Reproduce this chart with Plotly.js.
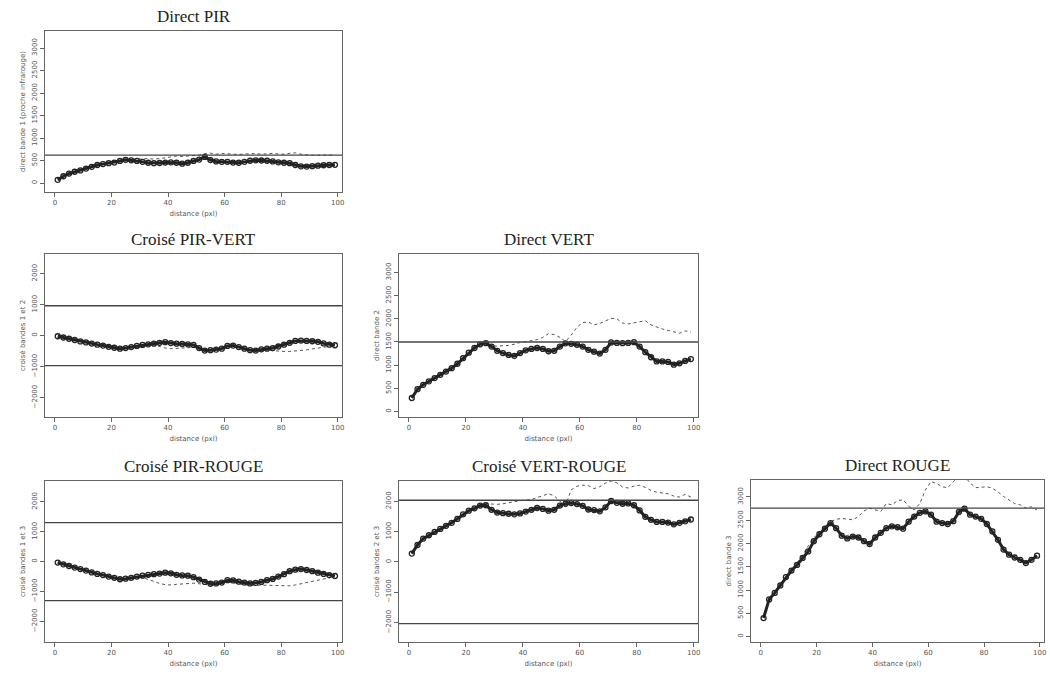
<!DOCTYPE html>
<html>
<head>
<meta charset="utf-8">
<script src="https://cdn.plot.ly/plotly-3.0.1.min.js"></script>
<style>html,body{margin:0;padding:0;background:#fff;}#chart{width:1050px;height:675px;}</style>
</head>
<body>
<div id="chart"></div>
<script>
// distances (pixels)
const distance = [1,3,5,7,9,11,13,15,17,19,21,23,25,27,29,31,33,35,37,39,41,43,45,47,49,51,53,55,57,59,61,63,65,67,69,71,73,75,77,79,81,83,85,87,89,91,93,95,97,99];

// Direct PIR
const pirThick = [70,150,210,250,280,320,360,400,420,440,455,490,515,505,490,470,450,440,445,455,460,450,430,450,490,520,580,510,480,470,470,455,450,470,495,505,500,495,480,460,450,440,400,370,365,375,385,395,400,405];
const pirThin  = [70,150,210,250,280,320,360,400,420,440,455,490,515,520,530,540,545,530,540,560,580,600,590,600,610,620,650,665,640,655,650,640,635,645,650,655,640,650,660,645,640,660,670,640,620,615,620,615,620,625];

// Croisé PIR-VERT
const pvThick = [-20,-60,-100,-140,-185,-220,-255,-290,-320,-360,-390,-420,-400,-370,-330,-300,-280,-260,-230,-210,-240,-260,-270,-280,-300,-400,-480,-470,-450,-420,-330,-320,-370,-420,-470,-480,-440,-420,-400,-350,-290,-230,-170,-160,-170,-180,-200,-250,-290,-310];
const pvThin  = [-20,-60,-100,-140,-185,-220,-255,-290,-320,-360,-390,-420,-400,-370,-330,-300,-280,-300,-360,-400,-420,-410,-400,-390,-380,-410,-470,-480,-460,-430,-350,-340,-390,-430,-470,-480,-460,-470,-490,-500,-510,-510,-500,-480,-460,-430,-400,-370,-340,-320];

// Direct VERT
const vertThick = [290,480,575,650,720,790,860,935,1030,1150,1270,1370,1450,1475,1400,1310,1260,1220,1200,1260,1320,1350,1370,1350,1300,1310,1400,1470,1460,1440,1400,1330,1290,1250,1330,1490,1480,1475,1480,1495,1400,1280,1170,1080,1080,1070,1010,1040,1090,1130];
const vertThin  = [290,480,575,650,720,790,860,935,1030,1150,1270,1370,1450,1460,1420,1410,1420,1425,1450,1490,1510,1530,1550,1600,1680,1660,1600,1510,1650,1820,1920,1930,1870,1900,1950,2010,2000,1910,1890,1910,1930,1960,1870,1820,1780,1750,1720,1690,1740,1710];

// Croisé PIR-ROUGE
const prThick = [-30,-90,-145,-200,-250,-300,-360,-410,-450,-500,-540,-590,-570,-540,-500,-470,-440,-420,-400,-370,-390,-440,-460,-470,-520,-600,-680,-740,-730,-700,-620,-630,-670,-700,-730,-710,-680,-620,-580,-500,-420,-320,-270,-250,-280,-320,-370,-410,-450,-480];
const prThin  = [-30,-90,-145,-200,-250,-300,-360,-410,-450,-500,-540,-590,-570,-540,-500,-530,-600,-680,-730,-770,-780,-760,-740,-730,-720,-740,-770,-780,-770,-740,-700,-700,-740,-770,-790,-800,-790,-790,-800,-810,-820,-810,-780,-740,-700,-650,-600,-560,-520,-500];

// Croisé VERT-ROUGE
const vrThick = [275,560,770,880,990,1090,1190,1290,1420,1570,1690,1770,1860,1870,1720,1630,1610,1590,1570,1600,1660,1720,1780,1750,1690,1720,1860,1920,1945,1910,1850,1730,1710,1670,1800,2010,1950,1920,1930,1870,1700,1490,1390,1320,1320,1300,1240,1290,1340,1400];
const vrThin  = [275,560,770,880,990,1090,1190,1290,1420,1570,1690,1770,1860,1920,1910,1900,1920,1960,1990,2020,2040,2060,2120,2190,2250,2180,2000,1870,2380,2500,2530,2520,2420,2480,2600,2670,2610,2470,2440,2500,2530,2460,2360,2300,2270,2250,2170,2140,2230,2140];

// Direct ROUGE
const rougeThick = [400,800,940,1100,1280,1420,1540,1690,1830,2050,2200,2320,2440,2330,2170,2110,2150,2130,2050,1990,2130,2230,2330,2370,2350,2320,2470,2580,2660,2690,2620,2470,2440,2420,2480,2680,2750,2620,2580,2530,2420,2260,2080,1870,1760,1700,1650,1580,1650,1740];
const rougeThin  = [400,800,960,1130,1300,1450,1580,1750,1950,2120,2250,2380,2470,2520,2540,2530,2510,2580,2700,2760,2720,2690,2860,2830,2920,2940,2800,2720,2860,3150,3330,3290,3220,3200,3330,3420,3450,3300,3200,3210,3220,3190,3110,3010,2930,2860,2830,2760,2790,2720];

// sills of the direct variograms
const sillPIR = 620, sillVERT = 1500, sillROUGE = 2760;

const panelTitles = ["Direct PIR","Croisé PIR-VERT","Direct VERT","Croisé PIR-ROUGE","Croisé VERT-ROUGE","Direct ROUGE"];
const yTitles = ["direct bande 1 (proche infrarouge)","croisé bandes 1 et 2","direct bande 2","croisé bandes 1 et 3","croisé bandes 2 et 3","direct bande 3"];
const xTitle = "distance (pxl)";
const xTicks = [0,20,40,60,80,100];
const directTicks = [0,500,1000,1500,2000,2500,3000];
const crossTicks = [-2000,-1000,0,1000,2000];

const panels = [
  {thick: pirThick, thin: pirThin, lines: [sillPIR], dom: [[45,342],[31,192]], yr: [-200,3380], ticks: directTicks},
  {thick: pvThick, thin: pvThin, lines: [Math.sqrt(sillPIR*sillVERT), -Math.sqrt(sillPIR*sillVERT)], dom: [[45,342],[254,417]], yr: [-2625,2635], ticks: crossTicks},
  {thick: vertThick, thin: vertThin, lines: [sillVERT], dom: [[399,698],[254,417]], yr: [-120,3400], ticks: directTicks},
  {thick: prThick, thin: prThin, lines: [Math.sqrt(sillPIR*sillROUGE), -Math.sqrt(sillPIR*sillROUGE)], dom: [[45,342],[481,642]], yr: [-2690,2700], ticks: crossTicks},
  {thick: vrThick, thin: vrThin, lines: [Math.sqrt(sillVERT*sillROUGE), -Math.sqrt(sillVERT*sillROUGE)], dom: [[399,698],[481,642]], yr: [-2640,2670], ticks: crossTicks},
  {thick: rougeThick, thin: rougeThin, lines: [sillROUGE], dom: [[751,1044],[480,642]], yr: [-115,3365], ticks: directTicks}
];

const W = 1050, H = 675;
const traces = [];
const layout = {
  width: W, height: H,
  margin: {l:0, r:0, t:0, b:0},
  paper_bgcolor: '#fff', plot_bgcolor: '#fff',
  showlegend: false,
  shapes: [], annotations: []
};
const tickFont = {family: 'DejaVu Sans, sans-serif', size: 7, color: '#555'};
const titleFont = {family: 'DejaVu Sans, sans-serif', size: 7, color: '#555'};

panels.forEach((p, i) => {
  const n = i === 0 ? '' : String(i + 1);
  const xa = 'x' + n, ya = 'y' + n;
  traces.push({
    x: distance, y: p.thin, xaxis: xa, yaxis: ya, type: 'scatter', mode: 'lines',
    line: {color: '#555', width: 1, dash: 'dot'}, hoverinfo: 'skip'
  });
  traces.push({
    x: distance, y: p.thick, xaxis: xa, yaxis: ya, type: 'scatter', mode: 'lines+markers',
    line: {color: '#222', width: 3}, marker: {symbol: 'circle-open', size: 5, color: '#222', line: {width: 1.3}},
    cliponaxis: true
  });
  const xd = [p.dom[0][0] / W, p.dom[0][1] / W];
  const yd = [1 - p.dom[1][1] / H, 1 - p.dom[1][0] / H];
  layout['xaxis' + n] = {
    domain: xd, anchor: ya, range: [-3.5, 101.5],
    tickvals: xTicks, ticktext: xTicks.map(String), ticks: 'outside', ticklen: 4, tickcolor: '#666',
    showline: true, mirror: true, linecolor: '#666', linewidth: 1,
    showgrid: false, zeroline: false, tickfont: tickFont, ticklabeloverflow: 'allow',
    title: {text: xTitle, font: titleFont, standoff: 4}
  };
  layout['yaxis' + n] = {
    domain: yd, anchor: xa, range: p.yr,
    tickvals: p.ticks, ticks: 'outside', ticklen: 4, tickcolor: '#666', tickangle: -90,
    showline: true, mirror: true, linecolor: '#666', linewidth: 1,
    showgrid: false, zeroline: false, tickfont: tickFont,
    title: {text: yTitles[i], font: titleFont, standoff: 4}
  };
  p.lines.forEach(v => {
    layout.shapes.push({type: 'line', xref: xa + ' domain', yref: ya, x0: 0, x1: 1, y0: v, y1: v,
      line: {color: '#444', width: 1.3}});
  });
  layout.annotations.push({
    text: panelTitles[i], xref: 'paper', yref: 'paper',
    x: (xd[0] + xd[1]) / 2, y: yd[1], yshift: 3, xanchor: 'center', yanchor: 'bottom',
    showarrow: false, font: {family: 'Liberation Serif, DejaVu Serif, serif', size: 17, color: '#222'}
  });
});

Plotly.newPlot('chart', traces, layout, {displayModeBar: false, staticPlot: true});
</script>
</body>
</html>
